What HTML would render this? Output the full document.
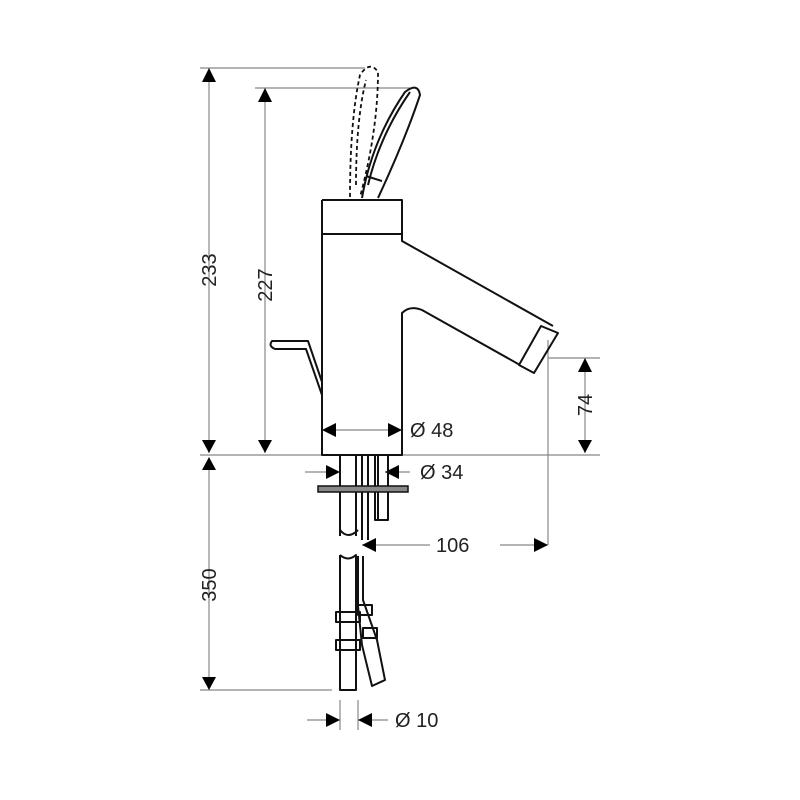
<!DOCTYPE html>
<html><head><style>html,body{margin:0;padding:0;background:#fff}svg{display:block}</style></head>
<body>
<svg width="800" height="800" viewBox="0 0 800 800" xmlns="http://www.w3.org/2000/svg" font-family="Liberation Sans, DejaVu Sans, sans-serif">
<g stroke="#888" stroke-width="1.2" fill="none">
  <line x1="200" y1="68" x2="365" y2="68"/>
  <line x1="209" y1="68" x2="209" y2="453"/>
  <line x1="255" y1="88" x2="410" y2="88"/>
  <line x1="265" y1="88" x2="265" y2="453"/>
  <line x1="200" y1="455" x2="600" y2="455"/>
  <line x1="209" y1="458" x2="209" y2="690"/>
  <line x1="200" y1="690" x2="332" y2="690"/>
  <line x1="548" y1="358" x2="600" y2="358"/>
  <line x1="585" y1="358" x2="585" y2="453"/>
  <line x1="548" y1="340" x2="548" y2="545"/>
  <line x1="362" y1="545" x2="430" y2="545"/>
  <line x1="500" y1="545" x2="548" y2="545"/>
  <line x1="322" y1="430" x2="402" y2="430"/>
  <line x1="305" y1="472" x2="340" y2="472"/>
  <line x1="385" y1="472" x2="410" y2="472"/>
  <line x1="307" y1="720" x2="340" y2="720"/>
  <line x1="358" y1="720" x2="388" y2="720"/>
  <line x1="340" y1="700" x2="340" y2="730"/>
  <line x1="358" y1="700" x2="358" y2="730"/>
</g>
<g fill="#000">
  <polygon points="209,68 202,82 216,82"/>
  <polygon points="209,453 202,440 216,440"/>
  <polygon points="209,457 202,470 216,470"/>
  <polygon points="209,690 202,677 216,677"/>
  <polygon points="265,88 258,102 272,102"/>
  <polygon points="265,453 258,440 272,440"/>
  <polygon points="585,358 578,372 592,372"/>
  <polygon points="585,453 578,440 592,440"/>
  <polygon points="548,545 534,538 534,552"/>
  <polygon points="362,545 376,538 376,552"/>
  <polygon points="322,430 336,423 336,437"/>
  <polygon points="402,430 388,423 388,437"/>
  <polygon points="340,472 326,465 326,479"/>
  <polygon points="385,472 399,465 399,479"/>
  <polygon points="340,720 326,713 326,727"/>
  <polygon points="358,720 372,713 372,727"/>
</g>
<g fill="#222" font-size="20">
  <text transform="translate(216,270) rotate(-90)" text-anchor="middle">233</text>
  <text transform="translate(272,285) rotate(-90)" text-anchor="middle">227</text>
  <text transform="translate(216,585) rotate(-90)" text-anchor="middle">350</text>
  <text transform="translate(592,405) rotate(-90)" text-anchor="middle">74</text>
  <text x="410" y="437">Ø 48</text>
  <text x="420" y="479">Ø 34</text>
  <text x="436" y="552">106</text>
  <text x="395" y="727">Ø 10</text>
</g>
<g stroke="#111" stroke-width="2" fill="none" stroke-linejoin="round">
  <path d="M322,200 L402,200 L402,241 L553,326"/>
  <line x1="322" y1="234" x2="402" y2="234"/>
  <path d="M322,200 L322,455 L402,455 L402,313 Q410,305 422,310 L520,365"/>
  <path d="M541,326 L558,333 L534,373 L519,365 Z"/>
  <path d="M322,395 L306,349 L275,349 Q268,346 272,341 L308,341 L322,382"/>
  <!-- solid lever -->
  <path d="M362,198 Q372,140 405,92 Q418,82 420,95 Q405,140 378,198"/>
  <path d="M368,185 Q380,135 410,92"/>
  <path d="M366,176 L382,181"/>
  <!-- pipes -->
  <path d="M340,455 L340,536 M356,455 L356,536 M340,530 Q348,540 358,530"/>
  <path d="M362,455 L362,540 M368,455 L368,540"/>
  <path d="M375,455 L375,520 L388,520 L388,455 M378,455 L378,520"/>
  <path d="M340,555 L340,690 L356,690 L356,555 Q348,562 340,555"/>
  <path d="M363,556 L363,600 L377,640 L385,680 L372,686 L362,645 L358,606 L358,556"/>
  <rect x="336" y="612" width="24" height="10"/>
  <rect x="336" y="640" width="24" height="10"/>
  <rect x="358" y="605" width="14" height="10"/>
  <rect x="363" y="628" width="14" height="10"/>
</g>
<rect x="318" y="486" width="90" height="6" fill="#888" stroke="#111" stroke-width="1.5"/>
<g stroke="#111" stroke-width="1.8" fill="none" stroke-dasharray="4,3">
  <path d="M350,197 Q350,120 360,75 Q370,60 378,72 Q378,130 360,197"/>
  <path d="M356,185 Q356,120 366,80"/>
</g>
</svg>
</body></html>
